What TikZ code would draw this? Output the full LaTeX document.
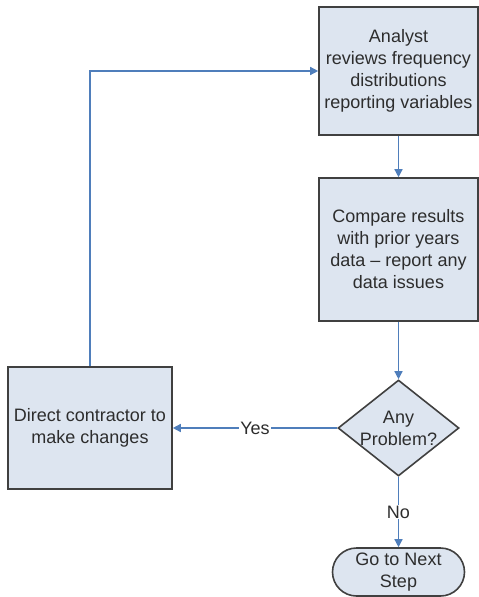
\documentclass[tikz,border=0pt]{standalone}
\usepackage{fontspec}
\setmainfont{Liberation Sans}
\usetikzlibrary{shapes.geometric,shapes.misc,arrows.meta}

\definecolor{boxfill}{RGB}{221,229,240}
\definecolor{boxline}{RGB}{64,64,64}
\definecolor{flowblue}{RGB}{79,126,187}
\definecolor{txt}{RGB}{45,45,45}

\begin{document}
\begin{tikzpicture}[x=1pt,y=1pt,
  every node/.style={font=\fontsize{18}{22}\selectfont,text=txt},
  stepbox/.style={draw=boxline,line width=1.6pt,fill=boxfill,align=center,inner sep=0pt},
  decision/.style={diamond,draw=boxline,line width=1.6pt,fill=boxfill,inner sep=0pt,
    minimum width=121pt,minimum height=96pt},
  terminal/.style={rounded rectangle,draw=boxline,line width=1.6pt,fill=boxfill,
    align=center,inner sep=0pt,minimum width=132pt,minimum height=48pt},
  flow/.style={draw=flowblue,line width=1.4pt,-{Triangle[width=8pt,length=8pt]}},
  tag/.style={fill=white,inner sep=1pt}]
\useasboundingbox (0,0) rectangle (479,-597);

% process boxes
\node[stepbox,minimum width=159pt,minimum height=128pt] (analyst) at (398.5,-71)
  {Analyst\\reviews frequency\\distributions\\reporting variables};
\node[stepbox,minimum width=159pt,minimum height=143pt] (compare) at (398.5,-249.5)
  {Compare results\\with prior years\\data -- report any\\data issues};
\node[stepbox,minimum width=164pt,minimum height=122pt] (direct) at (90,-428)
  {Direct contractor to\\make changes};

% decision and end
\node[decision] (prob) at (398.5,-428) {};
\node[align=center] (probtext) at (prob) {Any\\Problem?};
\node[terminal] (next) at (398.5,-572) {Go to Next\\Step};

% connectors
\draw[flow] (direct.north) |- (analyst.west);
\draw[flow] (analyst.south) -- (compare.north);
\draw[flow] (compare.south) -- (prob.north);
\draw[flow] (prob.west) -- node[tag] {Yes} (direct.east);
\draw[flow] (prob.south) -- node[tag] {No} (next.north);

\end{tikzpicture}
\end{document}
